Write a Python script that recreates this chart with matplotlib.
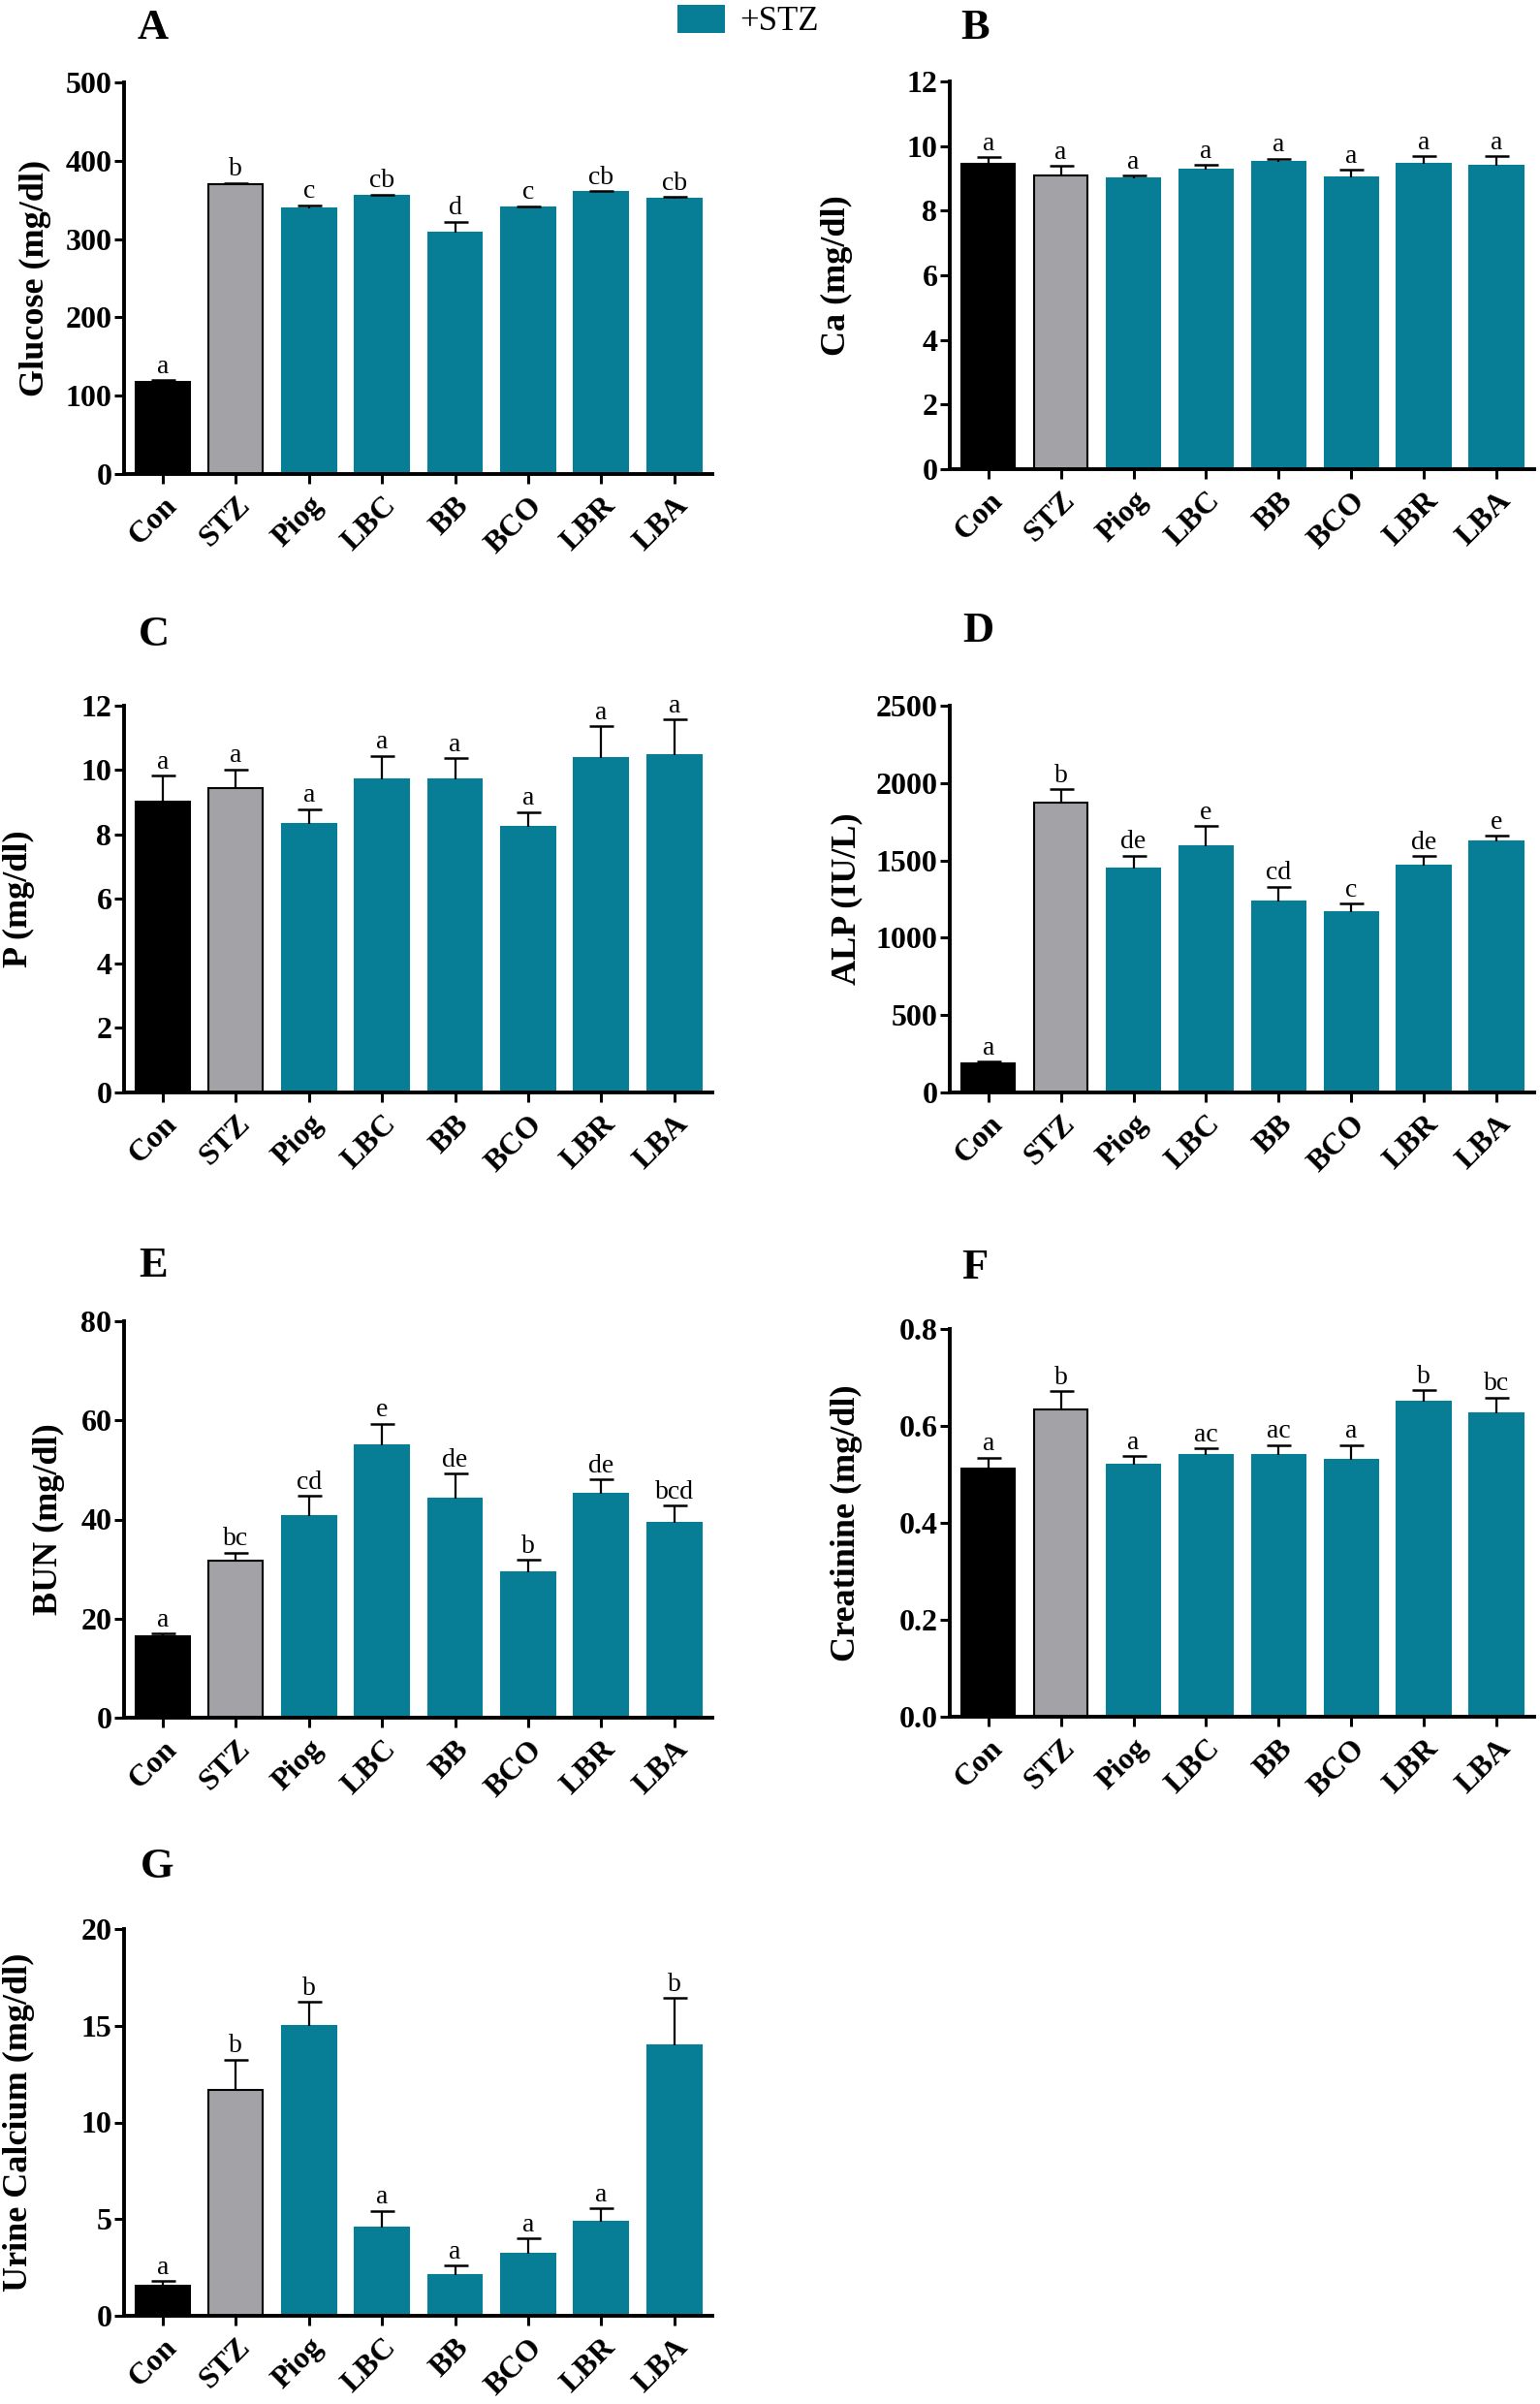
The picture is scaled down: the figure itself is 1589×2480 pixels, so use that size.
import matplotlib

matplotlib.use("Agg")
import matplotlib.pyplot as plt
import numpy as np
from matplotlib.patches import Patch

plt.rcParams["font.family"] = ["Liberation Serif", "DejaVu Serif"]

FIG_W, FIG_H = 1589, 2480
TEAL = "#087E96"
GRAY = "#A3A2A7"

groups = ["Con", "STZ", "Piog", "LBC", "BB", "BCO", "LBR", "LBA"]
bar_colors = ["black", GRAY] + [TEAL] * 6
edge_colors = ["black", "black"] + [TEAL] * 6

glucose_mean = [117, 370, 339, 355, 308, 340, 360, 351]
glucose_sem = [3, 1.5, 4, 2, 14, 2, 1.5, 3]
glucose_sig = ["a", "b", "c", "cb", "d", "c", "cb", "cb"]

ca_mean = [9.45, 9.09, 9.00, 9.27, 9.52, 9.02, 9.45, 9.40]
ca_sem = [0.20, 0.29, 0.09, 0.14, 0.09, 0.25, 0.24, 0.29]
ca_sig = ["a", "a", "a", "a", "a", "a", "a", "a"]

p_mean = [9.03, 9.45, 8.34, 9.70, 9.70, 8.25, 10.37, 10.48]
p_sem = [0.80, 0.57, 0.45, 0.75, 0.67, 0.45, 0.99, 1.09]
p_sig = ["a", "a", "a", "a", "a", "a", "a", "a"]

alp_mean = [188, 1871, 1445, 1591, 1234, 1165, 1469, 1623]
alp_sem = [10, 89, 86, 131, 97, 57, 57, 35]
alp_sig = ["a", "b", "de", "e", "cd", "c", "de", "e"]

bun_mean = [16.5, 31.6, 40.7, 55.0, 44.2, 29.3, 45.2, 39.3]
bun_sem = [0.5, 1.7, 4.1, 4.3, 5.0, 2.6, 2.9, 3.5]
bun_sig = ["a", "bc", "cd", "e", "de", "b", "de", "bcd"]

creat_mean = [0.513, 0.634, 0.521, 0.540, 0.540, 0.530, 0.651, 0.626]
creat_sem = [0.022, 0.038, 0.017, 0.014, 0.021, 0.031, 0.023, 0.033]
creat_sig = ["a", "b", "a", "ac", "ac", "a", "b", "bc"]

ucal_mean = [1.55, 11.70, 15.01, 4.56, 2.13, 3.22, 4.85, 13.96]
ucal_sem = [0.23, 1.55, 1.21, 0.87, 0.46, 0.79, 0.71, 2.47]
ucal_sig = ["a", "b", "b", "a", "a", "a", "a", "b"]

# panel letter, ylabel, data, y range, pixel box (left, top, right, bottom), ylabel x, letter pos
panels = [
    ("A", "Glucose (mg/dl)", glucose_mean, glucose_sem, glucose_sig, 500, 100, "{:.0f}",
     (128, 85, 735, 489), -0.150, (158, 29)),
    ("B", "Ca (mg/dl)", ca_mean, ca_sem, ca_sig, 12, 2, "{:.0f}",
     (980, 84, 1583, 484), -0.194, (1006, 29)),
    ("C", "P (mg/dl)", p_mean, p_sem, p_sig, 12, 2, "{:.0f}",
     (128, 728, 735, 1127), -0.178, (159, 655)),
    ("D", "ALP (IU/L)", alp_mean, alp_sem, alp_sig, 2500, 500, "{:.0f}",
     (980, 728, 1583, 1127), -0.176, (1009, 651)),
    ("E", "BUN (mg/dl)", bun_mean, bun_sem, bun_sig, 80, 20, "{:.0f}",
     (128, 1363, 735, 1772), -0.127, (158, 1306)),
    ("F", "Creatinine (mg/dl)", creat_mean, creat_sem, creat_sig, 0.8, 0.2, "{:.1f}",
     (980, 1371, 1583, 1771), -0.176, (1006, 1308)),
    ("G", "Urine Calcium (mg/dl)", ucal_mean, ucal_sem, ucal_sig, 20, 5, "{:.0f}",
     (128, 1990, 735, 2389), -0.178, (162, 1926)),
]


def add_axes(fig, box):
    left, top, right, bottom = box
    return fig.add_axes([left / FIG_W, 1 - bottom / FIG_H,
                         (right - left) / FIG_W, (bottom - top) / FIG_H])


def draw_panel(ax, means, sems, sig, ymax, ystep, fmt, ylabel, label_x):
    x = np.arange(len(groups))
    ax.bar(x, means, width=0.74, color=bar_colors, edgecolor=edge_colors,
           linewidth=1.5, zorder=2)
    _, caps, _ = ax.errorbar(x, means, yerr=[np.zeros(len(x)), sems], fmt="none",
                             ecolor="black", elinewidth=1.6, capsize=9, capthick=1.8,
                             zorder=3)
    caps[0].set_visible(False)
    for xi, m, s, t in zip(x, means, sems, sig):
        ax.annotate(t, (xi, m + s), xytext=(0, 1), textcoords="offset points",
                    ha="center", va="bottom", fontsize=20)

    ax.set_xlim(-0.53, 7.52)
    ax.set_ylim(0, ymax)
    ticks = np.arange(0, ymax + ystep / 2, ystep)
    ax.set_yticks(ticks, [fmt.format(t) for t in ticks], fontweight="bold")
    ax.set_xticks(x, groups, rotation=45, ha="right", rotation_mode="anchor",
                  fontweight="bold")
    for side in ("top", "right"):
        ax.spines[side].set_visible(False)
    for side in ("left", "bottom"):
        ax.spines[side].set_linewidth(2.8)
    ax.tick_params(axis="y", direction="out", length=7, width=2.2, labelsize=23, pad=2)
    ax.tick_params(axis="x", direction="out", length=7, width=2.2, labelsize=23, pad=6)
    ax.set_ylabel(ylabel, fontsize=26, fontweight="bold", va="center")
    ax.yaxis.set_label_coords(label_x, 0.5)


def main() -> None:
    fig = plt.figure(figsize=(FIG_W / 100, FIG_H / 100), dpi=100)

    for letter, ylabel, means, sems, sig, ymax, ystep, fmt, box, label_x, lpos in panels:
        ax = add_axes(fig, box)
        draw_panel(ax, means, sems, sig, ymax, ystep, fmt, ylabel, label_x)
        fig.text(lpos[0] / FIG_W, 1 - lpos[1] / FIG_H, letter, fontsize=32,
                 fontweight="bold", ha="center", va="center")

    fig.legend(handles=[Patch(facecolor=TEAL, label="+STZ")], loc="center left",
               bbox_to_anchor=(699 / FIG_W, 1 - 22 / FIG_H), frameon=False,
               fontsize=25, handlelength=1.4, handleheight=0.9, handletextpad=0.45,
               borderpad=0, borderaxespad=0)

    fig.savefig("out.png", dpi=100)
    plt.close(fig)


if __name__ == "__main__":
    main()
